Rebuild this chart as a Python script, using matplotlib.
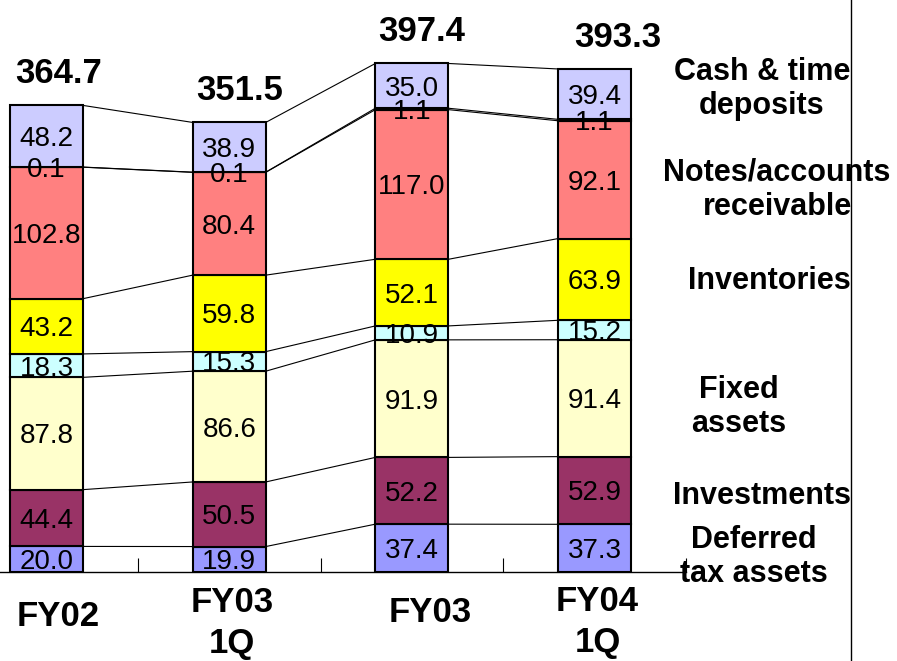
import matplotlib
matplotlib.use('Agg')
from matplotlib import pyplot as plt
from matplotlib.lines import Line2D
from matplotlib.transforms import offset_copy
import numpy as np

# data (bottom to top)
cats = ['FY02', 'FY03\n1Q', 'FY03', 'FY04\n1Q']
totals = [364.7, 351.5, 397.4, 393.3]
deferred_tax = [20.0, 19.9, 37.4, 37.3]
investments = [44.4, 50.5, 52.2, 52.9]
fixed_assets = [87.8, 86.6, 91.9, 91.4]
other = [18.3, 15.3, 10.9, 15.2]
inventories = [43.2, 59.8, 52.1, 63.9]
receivable = [102.8, 80.4, 117.0, 92.1]
misc = [0.1, 0.1, 1.1, 1.1]
cash = [48.2, 38.9, 35.0, 39.4]

series = [deferred_tax, investments, fixed_assets, other, inventories,
          receivable, misc, cash]
colors = ['#9999FF', '#993366', '#FFFFCC', '#CCFFFF', '#FFFF00',
          '#FF8080', '#FF8080', '#CCCCFF']

side_labels = ['Cash & time\ndeposits', 'Notes/accounts\nreceivable',
               'Inventories', 'Fixed\nassets', 'Investments',
               'Deferred\ntax assets']
# label centres in pixels (x, y from top)
side_pos = [(762, 89), (777, 190), (769, 281), (739, 407), (762, 496), (754, 557)]

W, H = 897, 661
fig = plt.figure(figsize=(W / 100, H / 100), dpi=100)
ax = fig.add_axes([-44.85 / W, 89 / H, 730.8 / W, 440 * 1.279 / H])

xs = np.arange(len(cats))
bw = 0.4
vals = np.array(series)
cum = np.vstack([np.zeros(len(cats)), np.cumsum(vals, axis=0)])

for k, s in enumerate(series):
    ax.bar(xs, s, bw, bottom=cum[k], color=colors[k], edgecolor='black',
           linewidth=1.5, zorder=3)

# connecting lines between neighbouring bars
for k in range(1, cum.shape[0]):
    for i in range(len(cats) - 1):
        ax.plot([i + bw / 2, i + 1 - bw / 2], [cum[k][i], cum[k][i + 1]],
                color='black', lw=0.8, zorder=2)

lab_tr = offset_copy(ax.transData, fig, x=0, y=-3, units='dots')
for k, s in enumerate(series):
    for i in range(len(cats)):
        ax.text(xs[i], cum[k][i] + s[i] / 2, '%.1f' % s[i], ha='center',
                va='center', fontsize=20, family='Liberation Sans',
                transform=lab_tr, zorder=5)

tot_dx = [12, 10, 10, 23]
for i, t in enumerate(totals):
    tr = offset_copy(ax.transData, fig, x=tot_dx[i], y=22, units='dots')
    ax.text(xs[i], cum[-1][i], '%.1f' % t, ha='center', va='baseline',
            fontsize=25, fontweight='bold', family='Liberation Sans',
            transform=tr)

cat_dx = [12, 3, 18, 3]
cat_y = [617, 623, 612, 622]
for i, c in enumerate(cats):
    tr = offset_copy(ax.transData, fig, x=cat_dx[i], y=572 - cat_y[i], units='dots')
    ax.text(xs[i], 0, c, ha='center', va='center', fontsize=25,
            fontweight='bold', family='Liberation Sans', linespacing=1.3,
            transform=tr, clip_on=False)

for lbl, (px, py) in zip(side_labels, side_pos):
    fig.text(px / W, 1 - py / H, lbl, ha='center', va='center', fontsize=22,
             fontweight='bold', family='Liberation Sans', linespacing=1.2)

ax.set_xlim(-0.5, 3.5)
ax.set_ylim(0, 440)
for sp in ['top', 'right', 'left']:
    ax.spines[sp].set_visible(False)
ax.spines['bottom'].set_linewidth(1.0)
ax.set_yticks([])
ax.set_xticks([])
ax.set_xticks([0.5, 1.5, 2.5, 3.5], minor=True)
ax.tick_params(axis='x', which='minor', direction='in', length=10, width=0.8,
               labelbottom=False)
ax.patch.set_alpha(0)

fig.add_artist(Line2D([851 / W, 851 / W], [0, 1], transform=fig.transFigure,
                      color='black', lw=1))

fig.savefig('out.png', dpi=100)
